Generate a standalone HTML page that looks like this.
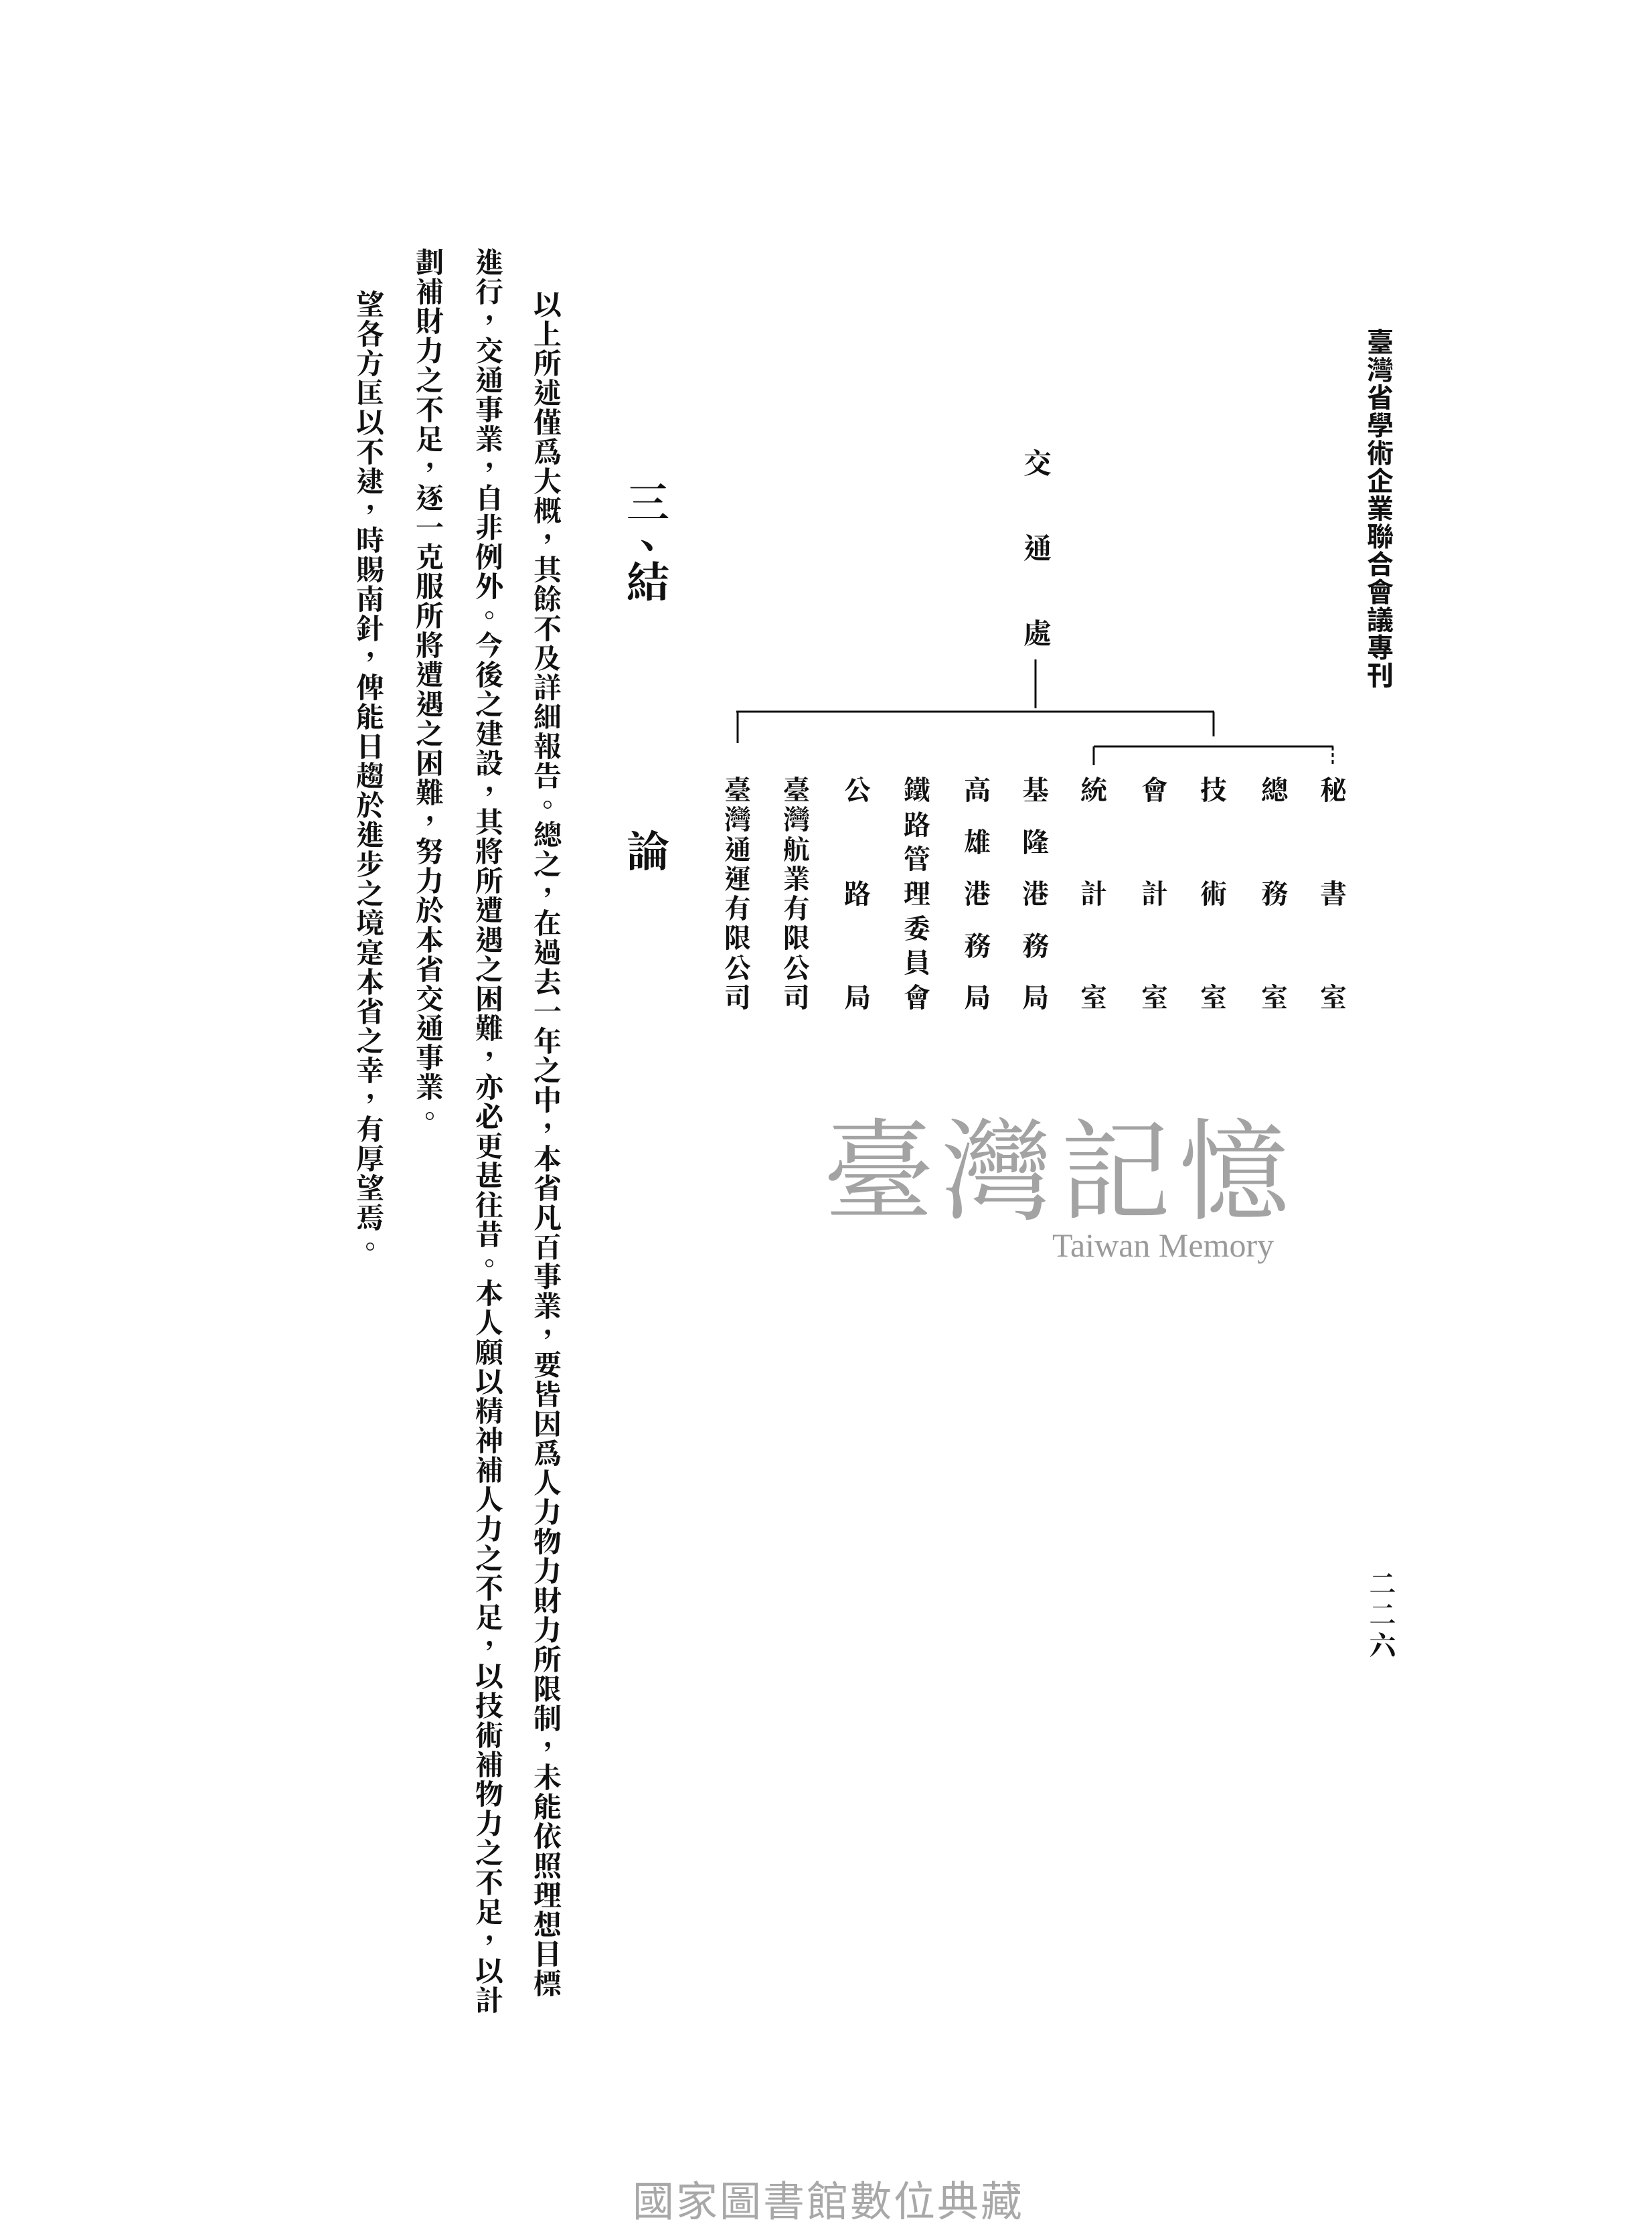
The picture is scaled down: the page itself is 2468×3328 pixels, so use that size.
<!DOCTYPE html>
<html><head><meta charset="utf-8"><style>
html,body{margin:0;padding:0;background:#fff;}
body{width:2468px;height:3319px;position:relative;overflow:hidden;font-family:"Liberation Serif","Noto Serif CJK TC","Noto Serif CJK SC",serif;color:#111;}
.v{position:absolute;writing-mode:vertical-rl;white-space:nowrap;line-height:1;}
.col{position:absolute;width:44px;display:flex;flex-direction:column;justify-content:space-between;align-items:center;font-size:40px;font-weight:700;line-height:1;}
.col span{display:block;height:40px;}
.body{font-size:42px;letter-spacing:2px;font-weight:700;}
</style></head><body>

<div class="v" style="left:2042px;top:490px;font-size:40px;font-weight:700;letter-spacing:1.5px;font-family:'Noto Sans CJK TC','Noto Sans CJK SC',sans-serif;">臺灣省學術企業聯合會議專刊</div>
<div class="v" style="left:2042px;top:2345px;font-size:40px;font-weight:700;letter-spacing:6px;">二二六</div>

<div class="v" style="left:1525px;top:670px;font-size:42px;font-weight:700;letter-spacing:85px;">交通處</div>

<svg style="position:absolute;left:0;top:0" width="2468" height="3319">
<g stroke="#111" stroke-width="3" fill="none">
<line x1="1547" y1="985" x2="1547" y2="1058"/>
<line x1="1100" y1="1063" x2="1814" y2="1063"/>
<line x1="1102" y1="1063" x2="1102" y2="1110"/>
<line x1="1813" y1="1063" x2="1813" y2="1100"/>
<line x1="1634" y1="1115" x2="1992" y2="1115"/>
<line x1="1634" y1="1115" x2="1634" y2="1143"/>
<line x1="1991" y1="1115" x2="1991" y2="1143" stroke-dasharray="6,4"/>
</g>
</svg>

<div class="col" style="left:1970px;top:1161px;height:350px;"><span>秘</span><span>書</span><span>室</span></div>
<div class="col" style="left:1882px;top:1161px;height:350px;"><span>總</span><span>務</span><span>室</span></div>
<div class="col" style="left:1791px;top:1161px;height:350px;"><span>技</span><span>術</span><span>室</span></div>
<div class="col" style="left:1703px;top:1161px;height:350px;"><span>會</span><span>計</span><span>室</span></div>
<div class="col" style="left:1612px;top:1161px;height:350px;"><span>統</span><span>計</span><span>室</span></div>
<div class="col" style="left:1525px;top:1161px;height:350px;"><span>基</span><span>隆</span><span>港</span><span>務</span><span>局</span></div>
<div class="col" style="left:1438px;top:1161px;height:350px;"><span>高</span><span>雄</span><span>港</span><span>務</span><span>局</span></div>
<div class="col" style="left:1348px;top:1161px;height:350px;"><span>鐵</span><span>路</span><span>管</span><span>理</span><span>委</span><span>員</span><span>會</span></div>
<div class="col" style="left:1259px;top:1161px;height:350px;"><span>公</span><span>路</span><span>局</span></div>
<div class="col" style="left:1168px;top:1161px;height:350px;"><span>臺</span><span>灣</span><span>航</span><span>業</span><span>有</span><span>限</span><span>公</span><span>司</span></div>
<div class="col" style="left:1080px;top:1161px;height:350px;"><span>臺</span><span>灣</span><span>通</span><span>運</span><span>有</span><span>限</span><span>公</span><span>司</span></div>

<div class="v" style="left:930px;top:718px;font-size:64px;font-weight:700;line-height:1;">三、</div>
<div class="v" style="left:930px;top:836px;font-size:64px;font-weight:700;">結</div>
<div class="v" style="left:930px;top:1238px;font-size:64px;font-weight:700;">論</div>

<div class="v body" style="left:793px;top:433px;">以上所述僅爲大概，其餘不及詳細報告。總之，在過去一年之中，本省凡百事業，要皆因爲人力物力財力所限制，未能依照理想目標</div>
<div class="v body" style="left:706px;top:370px;">進行，交通事業，自非例外。今後之建設，其將所遭遇之困難，亦必更甚往昔。本人願以精神補人力之不足，以技術補物力之不足，以計</div>
<div class="v body" style="left:617px;top:370px;">劃補財力之不足，逐一克服所將遭遇之困難，努力於本省交通事業。</div>
<div class="v body" style="left:528px;top:433px;">望各方匡以不逮，時賜南針，俾能日趨於進步之境寔本省之幸，有厚望焉。</div>

<div style="position:absolute;left:1230px;top:1655px;font-size:165px;line-height:1;color:#a3a3a3;font-family:'Noto Serif CJK TC','Noto Serif CJK SC',serif;letter-spacing:12px;white-space:nowrap;">臺灣記憶</div>
<div style="position:absolute;left:1572px;top:1835px;font-size:50px;line-height:1;color:#9a9a9a;font-family:'Liberation Serif',serif;white-space:nowrap;">Taiwan Memory</div>

<div style="position:absolute;left:945px;top:3252px;font-size:62px;line-height:1;color:#a8a8a8;font-family:'Noto Sans CJK TC','Noto Sans CJK SC',sans-serif;letter-spacing:3px;white-space:nowrap;">國家圖書館數位典藏</div>
</body></html>
